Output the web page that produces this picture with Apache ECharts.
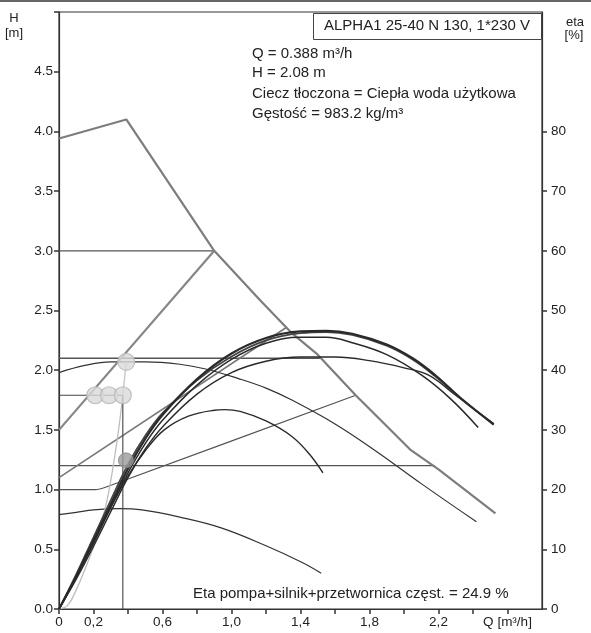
<!DOCTYPE html>
<html><head><meta charset="utf-8">
<script src="https://cdn.jsdelivr.net/npm/echarts@6/dist/echarts.min.js"></script>
<style>html,body{margin:0;padding:0;background:#fff;}#c{width:591px;height:633px;}</style>
</head><body><div id="c"></div>
<script>
// ---- tick labels ----
const qLabels = {'0.0':'0','0.2':'0,2','0.6':'0,6','1.0':'1,0','1.4':'1,4','1.8':'1,8','2.2':'2,2','2.6':'Q [m³/h]'};
const hLabels = ['0.0','0.5','1.0','1.5','2.0','2.5','3.0','3.5','4.0','4.5'];
const etaLabels = ['0','10','20','30','40','50','60','70','80'];
const etaTickValues = [0,10,20,30,40,50,60,70,80];

// ---- pump curves H [m] vs Q [m3/h] ----
const maxCurve = [[0,3.94],[0.39,4.1],[0.9,3.0],[1.17,2.58],[1.35,2.31],[1.5,2.13],[1.72,1.79],[2.04,1.33],[2.2,1.17],[2.53,0.80]];
const cp3 = [[0,3.0],[0.9,3.0]];
const cp2 = [[0,2.1],[1.52,2.1]];
const cp1 = [[0,1.2],[2.18,1.2]];
const pp3 = [[0,1.5],[0.9,3.0]];
const pp2 = [[0,1.1],[1.32,2.36]];
const pp1 = [[0,1.0],[0.21,1.0],[0.27,1.02],[1.72,1.79]];
const speed2 = [[0,1.98],[0.15,2.04],[0.3,2.07],[0.5,2.07],[0.7,2.05],[0.85,2.01],[1.04,1.93],[1.2,1.85],[1.35,1.75],[1.6,1.55],[1.83,1.33],[2.1,1.05],[2.42,0.73]];
const speed1 = [[0,0.79],[0.1,0.81],[0.2,0.83],[0.35,0.84],[0.48,0.83],[0.7,0.77],[0.94,0.68],[1.2,0.53],[1.41,0.39],[1.52,0.30]];
const systemCurve = [[0,0],[0.05,0.03],[0.1,0.16],[0.15,0.33],[0.2,0.52],[0.25,0.75],[0.28,0.92],[0.32,1.25],[0.35,1.55],[0.37,1.79]];
const connector = [[0.39,2.07],[0.37,1.79]];
const dutyH = [[0,1.79],[0.37,1.79]];
const dutyV = [[0.37,0],[0.37,1.79]];
const dutyPoints = [[0.21,1.79],[0.29,1.79],[0.37,1.79],[0.39,2.07]];

// ---- efficiency curves eta [%] vs Q ----
const eta1 = [[0,0],[0.1,5.5],[0.2,11.5],[0.3,17.5],[0.4,23.5],[0.5,28.5],[0.6,32.5],[0.8,38.5],[1.0,42.8],[1.2,45.4],[1.4,46.5],[1.55,46.6],[1.7,46.1],[1.9,44.3],[2.05,42],[2.18,39.2],[2.33,35.3],[2.52,30.9]];
const eta1b = [[0,0],[0.1,5.8],[0.2,12],[0.3,18.2],[0.4,24.2],[0.5,29],[0.6,32.8],[0.8,38.3],[1.0,42.3],[1.2,45],[1.4,46.2],[1.55,46.4],[1.7,45.9],[1.9,44.1],[2.05,41.8],[2.18,39],[2.33,35.2],[2.52,31]];
const eta2 = [[0,0],[0.1,5.3],[0.2,11],[0.3,17],[0.4,22.8],[0.5,27.7],[0.6,31.6],[0.8,37.5],[1.0,41.8],[1.2,44.5],[1.4,45.5],[1.55,45.5],[1.7,44.6],[1.9,42.6],[2.1,39.2],[2.27,35.2],[2.43,30.4]];
const eta3 = [[0,0],[0.1,5],[0.2,10.5],[0.3,16.3],[0.4,22],[0.5,26.8],[0.6,30.5],[0.8,36],[1.0,39.6],[1.2,41.5],[1.4,42.2],[1.6,42.2],[1.8,41.6],[2.0,40.4],[2.14,39.2],[2.3,35.8],[2.52,31]];
const etaLow = [[0,0],[0.1,5.5],[0.2,11.3],[0.3,17],[0.4,22.3],[0.5,26.5],[0.61,30],[0.75,32.3],[0.9,33.3],[0.96,33.4],[1.05,33.1],[1.2,31.5],[1.35,28.9],[1.45,26],[1.53,22.8]];
const etaPoint = [[0.388,24.9]];

const FONT = '"Liberation Sans", Arial, sans-serif';
const chart = echarts.init(document.getElementById('c'), null, {renderer:'canvas'});

function ln(data, color, width, smooth, yIdx, z){
  return {type:'line', data, yAxisIndex:yIdx||0, symbol:'none', smooth:smooth||false,
    lineStyle:{color, width}, z:z||2, silent:true};
}
const T = 15;

chart.setOption({
  animation:false,
  backgroundColor:'#fff',
  grid:{left:59, right:49, top:12, bottom:24, show:true, borderColor:'#333', borderWidth:1.2},
  xAxis:{type:'value', min:0, max:2.8, interval:0.2,
    axisLine:{lineStyle:{color:'#333', width:1.2}},
    axisTick:{show:true, length:5, lineStyle:{color:'#333', width:1.5}},
    splitLine:{show:false},
    axisLabel:{margin:6, color:'#222', fontSize:13.5, fontFamily:FONT,
      formatter:v=>qLabels[(Math.round(v*10)/10).toFixed(1)]||'', showMaxLabel:false}},
  yAxis:[
    {type:'value', min:0, max:5, interval:0.5, position:'left',
      axisLine:{show:true, lineStyle:{color:'#333', width:1.2}},
      axisTick:{show:true, length:5, lineStyle:{color:'#333', width:1.5}},
      splitLine:{show:false},
      axisLabel:{margin:6, color:'#222', fontSize:13.5, fontFamily:FONT,
        formatter:v=>{const i=Math.round(v/0.5); return hLabels[i]||'';}}},
    {type:'value', min:0, max:100, interval:10, position:'right',
      axisLine:{show:true, lineStyle:{color:'#333', width:1.2}},
      axisTick:{show:true, length:5, customValues:etaTickValues, lineStyle:{color:'#333', width:1.5}},
      splitLine:{show:false},
      axisLabel:{margin:9, color:'#222', fontSize:13.5, fontFamily:FONT, customValues:etaTickValues,
        formatter:v=>{const i=Math.round(v/10); return etaLabels[i]||'';}}}
  ],
  series:[
    ln(maxCurve,'#7d7d7d',2.2,false,0,3),
    ln(cp3,'#555',1.3),
    ln(cp2,'#555',1.3),
    ln(cp1,'#555',1.3),
    ln(pp3,'#868686',2.2,false,0,3),
    ln(pp2,'#777',1.6),
    ln(pp1,'#555',1.2,0.2),
    ln(speed2,'#333',1.2,0.4),
    ln(speed1,'#333',1.2,0.4),
    ln(systemCurve,'#bdbdbd',1.3,0.4),
    ln(connector,'#c4c4c4',1.3),
    ln(dutyH,'#444',1.1),
    ln(dutyV,'#444',1.1),
    ln(eta3,'#2a2a2a',1.4,0.4,1,4),
    ln(eta2,'#2a2a2a',1.5,0.4,1,4),
    ln(eta1b,'#444',1.8,0.4,1,4),
    ln(eta1,'#2a2a2a',2.2,0.4,1,4),
    ln(etaLow,'#2a2a2a',1.4,0.4,1,4),
    {type:'scatter', data:dutyPoints, yAxisIndex:0, symbolSize:17, z:6, silent:true,
      itemStyle:{color:'#d9d9d9', borderColor:'#b5b5b5', borderWidth:1.2}},
    {type:'scatter', data:etaPoint, yAxisIndex:1, symbolSize:15, z:6, silent:true,
      itemStyle:{color:'#9a9a9a', borderColor:'#888', borderWidth:1}}
  ],
  graphic:[
    {type:'rect', left:0, top:0, shape:{width:591, height:2}, style:{fill:'#666'}},
    {type:'text', x:14, y:18, style:{text:'H', font:'13px '+FONT, fill:'#222', align:'center', verticalAlign:'middle'}},
    {type:'text', x:14, y:33, style:{text:'[m]', font:'13px '+FONT, fill:'#222', align:'center', verticalAlign:'middle'}},
    {type:'text', x:575, y:22, style:{text:'eta', font:'13px '+FONT, fill:'#222', align:'center', verticalAlign:'middle'}},
    {type:'text', x:574, y:35, style:{text:'[%]', font:'13px '+FONT, fill:'#222', align:'center', verticalAlign:'middle'}},
    {type:'rect', shape:{x:313.5, y:13.5, width:228, height:26}, style:{fill:'#fff', stroke:'#444', lineWidth:1}, z:10},
    {type:'text', x:427, y:26, z:11, style:{text:'ALPHA1 25-40 N 130, 1*230 V', font:T+'px '+FONT, fill:'#222', align:'center', verticalAlign:'middle'}},
    {type:'text', x:252, y:54, z:11, style:{text:'Q = 0.388 m³/h', font:T+'px '+FONT, fill:'#222', verticalAlign:'middle'}},
    {type:'text', x:252, y:73, z:11, style:{text:'H = 2.08 m', font:T+'px '+FONT, fill:'#222', verticalAlign:'middle'}},
    {type:'text', x:252, y:94, z:11, style:{text:'Ciecz tłoczona = Ciepła woda użytkowa', font:T+'px '+FONT, fill:'#222', verticalAlign:'middle'}},
    {type:'text', x:252, y:114, z:11, style:{text:'Gęstość = 983.2 kg/m³', font:T+'px '+FONT, fill:'#222', verticalAlign:'middle'}},
    {type:'text', x:193, y:594, z:11, style:{text:'Eta pompa+silnik+przetwornica częst. = 24.9 %', font:T+'px '+FONT, fill:'#222', verticalAlign:'middle'}}
  ]
});
</script></body></html>
